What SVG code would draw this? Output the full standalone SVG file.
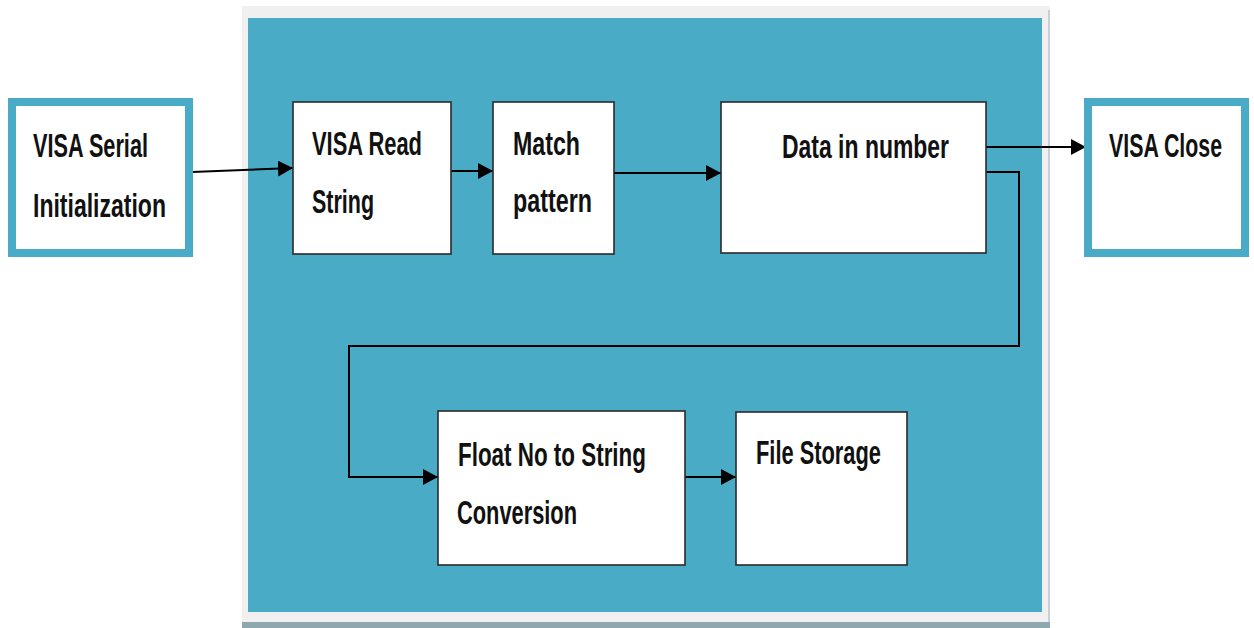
<svg xmlns="http://www.w3.org/2000/svg" width="1254" height="628" viewBox="0 0 1254 628">
  <defs>
    <style>
      .io { fill: #ffffff; stroke: #4aabc6; stroke-width: 8; }
      .blk { fill: #ffffff; stroke: #2a2a2a; stroke-width: 1.6; }
      .lbl { font-family: "Liberation Sans", Arial, sans-serif; font-weight: bold; font-size: 34px; fill: #111111; }
      .wire { fill: none; stroke: #000000; stroke-width: 2; }
    </style>
    <marker id="arrow" markerWidth="15" markerHeight="16" refX="15" refY="8" orient="auto" markerUnits="userSpaceOnUse">
      <path d="M0,0 L15,8 L0,16 Z" fill="#000000"/>
    </marker>
  </defs>

  <!-- white page -->
  <rect x="0" y="0" width="1254" height="628" fill="#ffffff"/>

  <!-- processing panel -->
  <g id="panel">
    <rect x="242" y="6" width="808" height="617" fill="#f0f0f0"/>
    <rect x="242" y="622" width="808" height="6" fill="#8fa8b0"/>
    <rect x="1048" y="10" width="2" height="612" fill="#c9d0d3"/>
    <rect x="248" y="18" width="794" height="594" fill="#4aabc6"/>
  </g>

  <!-- connectors -->
  <g id="connectors">
    <path class="wire" d="M192,172 L293,168" marker-end="url(#arrow)"/>
    <path class="wire" d="M451,171 L493,171" marker-end="url(#arrow)"/>
    <path class="wire" d="M614,173 L721,173" marker-end="url(#arrow)"/>
    <path class="wire" d="M986,147 L1086,147" marker-end="url(#arrow)"/>
    <path class="wire" d="M986,172 L1019,172 L1019,346 L349,346 L349,477 L438,477" marker-end="url(#arrow)"/>
    <path class="wire" d="M685,477 L736,477" marker-end="url(#arrow)"/>
  </g>

  <!-- labels use a narrowed bold face: scale(0.62,1) -->
  <g id="visa-serial-init">
    <rect class="io" x="12" y="102" width="177" height="151"/>
    <text class="lbl" transform="translate(33,157) scale(0.62,1)" textLength="185.5" lengthAdjust="spacingAndGlyphs">VISA Serial</text>
    <text class="lbl" transform="translate(33,217) scale(0.62,1)" textLength="214.5" lengthAdjust="spacingAndGlyphs">Initialization</text>
  </g>

  <g id="visa-read-string">
    <rect class="blk" x="293" y="102" width="158" height="152"/>
    <text class="lbl" transform="translate(312,155) scale(0.62,1)" textLength="177.4" lengthAdjust="spacingAndGlyphs">VISA Read</text>
    <text class="lbl" transform="translate(312,213) scale(0.62,1)" textLength="100" lengthAdjust="spacingAndGlyphs">String</text>
  </g>

  <g id="match-pattern">
    <rect class="blk" x="493" y="102" width="121" height="152"/>
    <text class="lbl" transform="translate(513,155) scale(0.62,1)" textLength="108" lengthAdjust="spacingAndGlyphs">Match</text>
    <text class="lbl" transform="translate(513,212) scale(0.62,1)" textLength="127.4" lengthAdjust="spacingAndGlyphs">pattern</text>
  </g>

  <g id="data-in-number">
    <rect class="blk" x="721" y="102" width="265" height="151"/>
    <text class="lbl" transform="translate(782,158) scale(0.62,1)" textLength="269.4" lengthAdjust="spacingAndGlyphs">Data in number</text>
  </g>

  <g id="visa-close">
    <rect class="io" x="1088" y="102" width="157" height="151"/>
    <text class="lbl" transform="translate(1109,157) scale(0.62,1)" textLength="182.3" lengthAdjust="spacingAndGlyphs">VISA Close</text>
  </g>

  <g id="float-to-string">
    <rect class="blk" x="438" y="411" width="247" height="154"/>
    <text class="lbl" transform="translate(458,466) scale(0.62,1)" textLength="303.2" lengthAdjust="spacingAndGlyphs">Float No to String</text>
    <text class="lbl" transform="translate(457,524) scale(0.62,1)" textLength="193.5" lengthAdjust="spacingAndGlyphs">Conversion</text>
  </g>

  <g id="file-storage">
    <rect class="blk" x="736" y="412" width="171" height="153"/>
    <text class="lbl" transform="translate(756,464) scale(0.62,1)" textLength="201.6" lengthAdjust="spacingAndGlyphs">File Storage</text>
  </g>
</svg>
